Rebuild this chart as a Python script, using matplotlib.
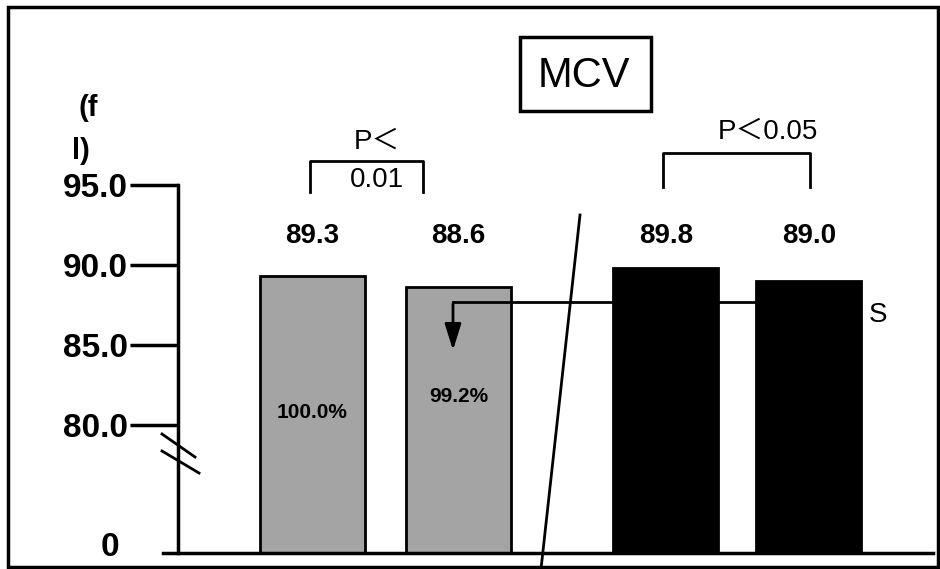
import numpy as np
import matplotlib.pyplot as plt
from matplotlib.transforms import Affine2D
from matplotlib.patches import Rectangle
from matplotlib.ticker import FixedLocator

plt.rcParams['font.family'] = ['Liberation Sans', 'Noto Sans CJK JP']

# MCV (fl) for the four groups
values = [89.3, 88.6, 89.8, 89.0]
pct_labels = ['100.0%', '99.2%']
bar_colors = ['#a4a4a4', '#a4a4a4', 'black', 'black']
ytick_vals = [80.0, 85.0, 90.0, 95.0]
ytick_labels = ['80.0', '85.0', '90.0', '95.0']
base = 72.0   # axis is broken, "0" sits here

# layout
xpos = [0, 1, 2.42, 3.4]
pct_y = [80.8, 81.75]
label_y = 91.8

fig = plt.figure(figsize=(9.4, 5.69), dpi=100)
ax = fig.add_axes([0, 0, 1, 1])
ax.set_xlim(-2.14, 4.298)
ax.set_ylim(71.0, 106.56)

# picture pixel coords (origin top-left) for the decorations
img = Affine2D().scale(1, -1).translate(0, 569)

for s in ['top', 'right', 'bottom']:
    ax.spines[s].set_visible(False)
ax.spines['left'].set_position(('axes', 178 / 940))
ax.spines['left'].set_bounds(base, 95)
ax.spines['left'].set_linewidth(2.5)
ax.set_xticks([])
ax.yaxis.set_major_locator(FixedLocator(ytick_vals))
ax.set_yticklabels(ytick_labels)
ax.tick_params(axis='y', which='major', direction='out', length=34.5, width=2.5,
               pad=1.5, labelsize=24)
for lab in ax.get_yticklabels():
    lab.set_fontweight('bold')
# zero label under the break
ax.text(110, 547, '0', transform=img, ha='center', va='center', fontsize=24,
        fontweight='bold')

ax.bar(xpos, np.array(values) - base, bottom=base, width=0.72,
       color=bar_colors, edgecolor='black', linewidth=2, zorder=2)

for x, v in zip(xpos, values):
    ax.text(x, label_y, f'{v:.1f}', ha='center', va='center', fontsize=20,
            fontweight='bold')
for x, t, y in zip(xpos, pct_labels, pct_y):
    ax.text(x, y, t, ha='center', va='center', fontsize=15, fontweight='bold', zorder=3)

# frame, baseline, break marks, divider
ax.add_patch(Rectangle((8, 7), 930, 560, transform=img, fill=False, lw=2.5,
                       ec='black', clip_on=False))
ax.plot([163, 933], [553, 553], transform=img, color='black', lw=2.5, clip_on=False)
ax.plot([162, 195], [434, 457], transform=img, color='black', lw=2)
ax.plot([162, 199], [451, 473], transform=img, color='black', lw=2)
ax.plot([580, 541], [215, 569], transform=img, color='black', lw=2, zorder=4)

# title box
ax.add_patch(Rectangle((520, 37), 131, 74, transform=img, fill=False, lw=2.5,
                       ec='black'))
ax.text(584, 76, 'MCV', transform=img, ha='center', va='center', fontsize=30)

# unit
ax.text(88, 108, '(f', transform=img, ha='center', va='center', fontsize=21,
        fontweight='bold')
ax.text(81, 151, 'l)', transform=img, ha='center', va='center', fontsize=21,
        fontweight='bold')

# significance brackets
ax.plot([310, 310, 423, 423], [192, 161, 161, 192], transform=img, color='black', lw=2)
ax.plot([663, 663, 810, 810], [187, 153, 153, 187], transform=img, color='black', lw=2)
ax.text(377, 142, 'P＜', transform=img, ha='center', va='center', fontsize=20)
ax.text(377, 180, '0.01', transform=img, ha='center', va='center', fontsize=20)
ax.text(768, 132, 'P＜0.05', transform=img, ha='center', va='center', fontsize=20)

# connector with arrow
ax.plot([758, 453], [302, 302], transform=img, color='black', lw=2, zorder=3)
ax.annotate('', xy=(453, 353), xytext=(453, 301), xycoords=img, textcoords=img,
            arrowprops=dict(arrowstyle='-|>,head_length=0.8,head_width=0.25',
                            color='black', lw=2, mutation_scale=20), zorder=3)
ax.text(878, 315, 'S', transform=img, ha='center', va='center', fontsize=20)

fig.savefig('out.png', dpi=100)
